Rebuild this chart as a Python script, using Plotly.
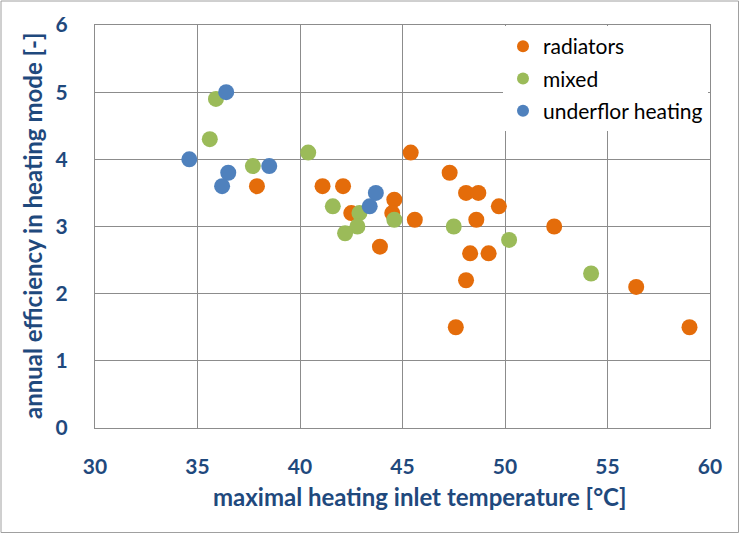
import plotly.graph_objects as go

# ---- data ----
radiators_x = [37.9, 41.1, 42.1, 45.4, 44.6, 42.5, 44.5, 45.6, 43.9, 47.3, 48.1,
               48.7, 49.7, 48.6, 52.4, 48.3, 49.2, 48.1, 56.4, 47.6, 59.0]
radiators_y = [3.6, 3.6, 3.6, 4.1, 3.4, 3.2, 3.2, 3.1, 2.7, 3.8, 3.5,
               3.5, 3.3, 3.1, 3.0, 2.6, 2.6, 2.2, 2.1, 1.5, 1.5]
mixed_x = [35.9, 35.6, 37.7, 40.4, 41.6, 42.9, 44.6, 42.8, 42.2, 47.5, 50.2, 54.2]
mixed_y = [4.9, 4.3, 3.9, 4.1, 3.3, 3.2, 3.1, 3.0, 2.9, 3.0, 2.8, 2.3]
underfloor_x = [36.4, 34.6, 36.5, 36.2, 38.5, 43.7, 43.4]
underfloor_y = [5.0, 4.0, 3.8, 3.6, 3.9, 3.5, 3.3]

series_names = ["radiators", "mixed", "underflor heating"]
x_ticks = [30, 35, 40, 45, 50, 55, 60]
y_ticks = [0, 1, 2, 3, 4, 5, 6]
x_title = "maximal heating inlet temperature [°C]"
y_title = "annual efficiency in heating mode [-]"

colors = ["#E46C0A", "#9BBB59", "#4F81BD"]
FONT = "Lato"
TXT = "#1F497D"
GRID = "#8C8C8C"

fig = go.Figure()
for name, xs, ys, c, grp in zip(series_names,
                               [radiators_x, mixed_x, underfloor_x],
                               [radiators_y, mixed_y, underfloor_y],
                               colors, ["a", "b", "c"]):
    fig.add_trace(go.Scatter(x=xs, y=ys, mode="markers", name=name,
                             legendgroup=grp,
                             marker=dict(size=16, color=c, line=dict(width=0))))

W, H = 740, 534
L, R, T, B = 95, 30, 25, 106
pw, ph = W - L - R, H - T - B

fig.update_layout(
    width=W, height=H,
    margin=dict(l=L, r=R, t=T, b=B),
    paper_bgcolor="white", plot_bgcolor="white",
    font=dict(family=FONT, color=TXT),
    showlegend=True,
    legend=dict(x=(503 - L) / pw, xanchor="left", y=(T + ph - 26) / ph, yanchor="top",
                bgcolor="white", borderwidth=0,
                font=dict(family=FONT, size=21, color="#000000"),
                itemsizing="constant", tracegroupgap=2,
                itemwidth=30),
    xaxis=dict(range=[30, 60], tickvals=x_ticks, showgrid=True,
               gridcolor=GRID, gridwidth=1, zeroline=False,
               showline=True, linecolor=GRID, mirror=True,
               ticks="", ticklabelstandoff=20,
               tickfont=dict(family=FONT, size=21, color=TXT, weight="bold")),
    yaxis=dict(range=[0, 6], tickvals=y_ticks, showgrid=True,
               gridcolor=GRID, gridwidth=1, zeroline=False,
               showline=True, linecolor=GRID, mirror=True,
               ticks="", ticklabelstandoff=22,
               tickfont=dict(family=FONT, size=21, color=TXT, weight="bold")),
    annotations=[
        dict(text=x_title, xref="paper", yref="paper",
             x=(420 - L) / pw, y=-(496 - (T + ph)) / ph,
             xanchor="center", yanchor="middle", showarrow=False,
             font=dict(family=FONT, size=24, color=TXT, weight="bold")),
        dict(text=y_title, xref="paper", yref="paper",
             x=-(L - 32) / pw, y=(T + ph - 226) / ph, textangle=-90,
             xanchor="center", yanchor="middle", showarrow=False,
             font=dict(family=FONT, size=24, color=TXT, weight="bold")),
    ],
    shapes=[dict(type="rect", xref="paper", yref="paper",
                 x0=-(L - 1) / pw, x1=1 + (R - 1.5) / pw,
                 y0=-(B - 1.5) / ph, y1=1 + (T - 1) / ph,
                 line=dict(color="#A0A0A0", width=1), layer="below")],
)

fig.write_html("out.html", config={"displayModeBar": False},
               post_script="document.body.style.margin='0px';")
